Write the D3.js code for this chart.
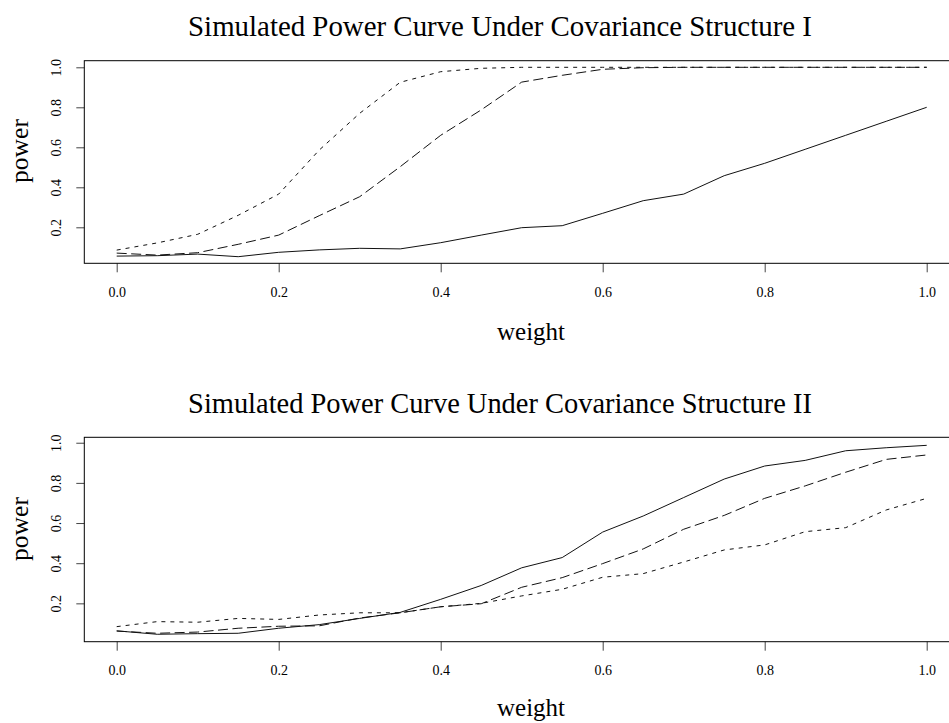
<!DOCTYPE html>
<html>
<head>
<meta charset="utf-8">
<script src="https://cdn.jsdelivr.net/npm/d3@7"></script>
<style>
  html, body { margin: 0; padding: 0; background: #fff; }
  svg { display: block; }
  text { font-family: "Liberation Serif", "Times New Roman", serif; fill: #000; }
</style>
</head>
<body>
<svg id="chart" width="949" height="723"></svg>
<script>
// Weights at which power was simulated
const weights = [0, 0.05, 0.10, 0.15, 0.20, 0.25, 0.30, 0.35, 0.40, 0.45, 0.50,
                 0.55, 0.60, 0.65, 0.70, 0.75, 0.80, 0.85, 0.90, 0.95, 1.00];

// Covariance structure I
const solidI = [0.056, 0.058, 0.066, 0.053, 0.075, 0.087, 0.095, 0.092, 0.123, 0.161, 0.198,
                0.208, 0.270, 0.333, 0.366, 0.458, 0.520, 0.590, 0.660, 0.730, 0.800];
const longI  = [0.071, 0.061, 0.073, 0.115, 0.161, 0.258, 0.353, 0.503, 0.660, 0.787, 0.926,
                0.960, 0.990, 0.998, 1.000, 1.000, 1.000, 1.000, 1.000, 1.000, 1.000];
const shortI = [0.086, 0.122, 0.165, 0.260, 0.366, 0.586, 0.770, 0.925, 0.978, 0.995, 1.000,
                1.000, 1.000, 1.000, 1.000, 1.000, 1.000, 1.000, 1.000, 1.000, 1.000];

// Covariance structure II
const solidII = [0.063, 0.046, 0.049, 0.051, 0.076, 0.094, 0.125, 0.155, 0.220, 0.289, 0.377,
                 0.428, 0.555, 0.635, 0.727, 0.819, 0.884, 0.912, 0.960, 0.975, 0.987];
const longII  = [0.062, 0.051, 0.057, 0.076, 0.086, 0.088, 0.127, 0.153, 0.183, 0.198, 0.280,
                 0.328, 0.398, 0.471, 0.569, 0.638, 0.723, 0.785, 0.853, 0.917, 0.939];
const shortII = [0.084, 0.109, 0.106, 0.125, 0.120, 0.142, 0.153, 0.153, 0.183, 0.200, 0.237,
                 0.270, 0.330, 0.348, 0.406, 0.466, 0.491, 0.557, 0.577, 0.665, 0.723];

const xTicks = [0, 0.2, 0.4, 0.6, 0.8, 1.0];
const yTicks = [0.2, 0.4, 0.6, 0.8, 1.0];
const titles = ["Simulated Power Curve Under Covariance Structure I",
                "Simulated Power Curve Under Covariance Structure II"];
const xLabel = "weight";
const yLabel = "power";

const svg = d3.select("#chart");
const fmt = d3.format(".1f");

// shared horizontal scale (plot box spans the data range padded by 4%)
const x = d3.scaleLinear().domain([0, 1]).range([116.7, 926.7]);
const boxLeft = x(-0.04), boxRight = x(1.04);

// line styles: solid, long dash, short dash
const styles = [null, "10,4.5", "4,5"];

// scale a text element's font so that it spans the given width
function fitWidth(sel, target, base) {
  sel.style("font-size", base + "px");
  const w = sel.node().getComputedTextLength();
  sel.style("font-size", (base * target / w).toFixed(2) + "px");
}

function panel(opts) {
  const y = d3.scaleLinear().domain(opts.yDomain).range([opts.boxBottom, opts.boxTop]);
  const g = svg.append("g");

  // series
  const line = d3.line().x((d, i) => x(weights[i])).y(d => y(d));
  opts.series.forEach((s, k) => {
    g.append("path")
      .datum(s)
      .attr("d", line)
      .attr("fill", "none")
      .attr("stroke", "#111")
      .attr("stroke-width", 1)
      .attr("stroke-dasharray", styles[k]);
  });

  // x axis
  const xa = g.append("g")
    .attr("transform", `translate(0,${opts.boxBottom})`)
    .call(d3.axisBottom(x).tickValues(xTicks).tickFormat(fmt).tickSize(9).tickSizeOuter(0));
  xa.select(".domain").remove();
  xa.selectAll(".tick line").attr("stroke", "#444");
  xa.selectAll(".tick text")
    .attr("y", opts.xTickLabelY - opts.boxBottom)
    .attr("dy", "0.35em")
    .style("font-family", "'Liberation Serif', serif")
    .style("font-size", "14px");

  // y axis with labels parallel to the axis
  const ya = g.append("g")
    .attr("transform", `translate(${boxLeft},0)`)
    .call(d3.axisLeft(y).tickValues(yTicks).tickFormat(fmt).tickSize(8).tickSizeOuter(0));
  ya.select(".domain").remove();
  ya.selectAll(".tick line").attr("stroke", "#444");
  ya.selectAll(".tick text")
    .attr("x", 0)
    .attr("y", -28)
    .attr("dy", "0.35em")
    .attr("transform", "rotate(-90)")
    .attr("text-anchor", "middle")
    .style("font-family", "'Liberation Serif', serif")
    .style("font-size", "14px");

  // plot box
  g.append("rect")
    .attr("x", boxLeft).attr("y", opts.boxTop)
    .attr("width", boxRight - boxLeft).attr("height", opts.boxBottom - opts.boxTop)
    .attr("fill", "none").attr("stroke", "#000").attr("stroke-width", 1);

  // title
  const t = g.append("text")
    .attr("x", 500).attr("y", opts.titleY)
    .attr("dy", "0.35em")
    .attr("text-anchor", "middle")
    .text(opts.title);
  fitWidth(t, 624, 26);

  // axis titles
  const xl = g.append("text")
    .attr("x", 531).attr("y", opts.xLabelY)
    .attr("dy", "0.15em")
    .attr("text-anchor", "middle")
    .text(xLabel);
  fitWidth(xl, 68, 24);

  const yl = g.append("text")
    .attr("transform", `translate(20,${opts.yLabelY}) rotate(-90)`)
    .attr("dy", "0.3em")
    .attr("text-anchor", "middle")
    .text(yLabel);
  fitWidth(yl, 64, 24);
}

panel({
  series: [solidI, longI, shortI],
  title: titles[0],
  yDomain: [0.02, 1.033], boxTop: 60.7, boxBottom: 263.3,
  titleY: 26, xTickLabelY: 292.5, xLabelY: 336, yLabelY: 151
});

panel({
  series: [solidII, longII, shortII],
  title: titles[1],
  yDomain: [0.009, 1.027], boxTop: 437.3, boxBottom: 641.7,
  titleY: 403, xTickLabelY: 670, xLabelY: 712, yLabelY: 529
});
</script>
</body>
</html>
